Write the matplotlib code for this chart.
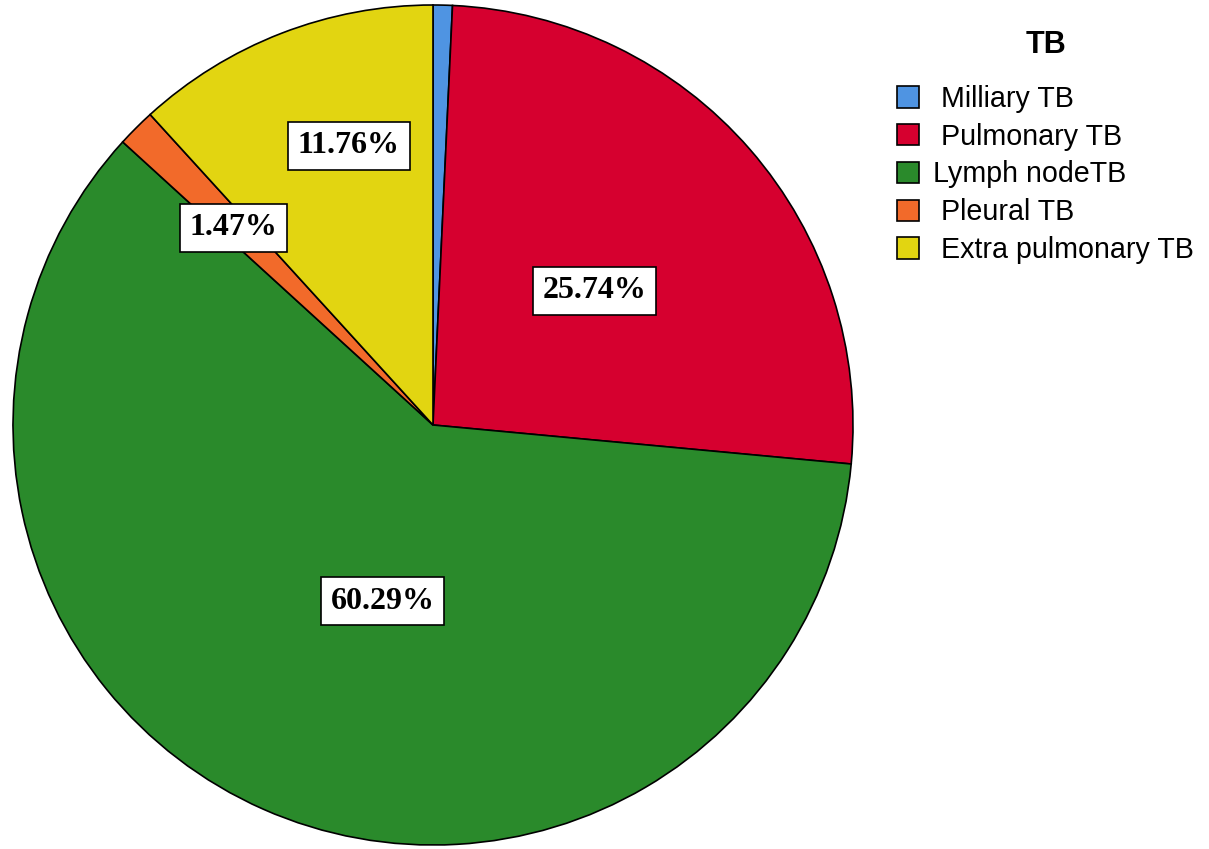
import matplotlib
matplotlib.use("Agg")
import matplotlib.pyplot as plt

# TB type distribution (%)
categories = ["Milliary TB", "Pulmonary TB", "Lymph nodeTB", "Pleural TB", "Extra pulmonary TB"]
legend_labels = [" Milliary TB", " Pulmonary TB", "Lymph nodeTB", " Pleural TB", " Extra pulmonary TB"]
percent = [0.74, 25.74, 60.29, 1.47, 11.76]
colors = ["#4f94e2", "#d6002f", "#2a8a2b", "#f26a2a", "#e2d511"]

# label anchors as (x, y) in units of pie radius from the centre; None = unlabelled
label_pos = [None, (0.385, 0.32), (-0.12, -0.42), (-0.475, 0.47), (-0.20, 0.665)]

W, H = 1209, 849
fig = plt.figure(figsize=(W / 100, H / 100), dpi=100)
ax = fig.add_axes([0, 0, 1, 1])

cx, cy, R = 433, H - 425, 420
wedges, _ = ax.pie(percent, colors=colors, startangle=90, counterclock=False,
                   center=(cx, cy), radius=R, frame=True,
                   wedgeprops=dict(edgecolor="black", linewidth=1.2))
ax.set_xlim(0, W)
ax.set_ylim(0, H)
ax.set_aspect("equal")
ax.axis("off")

for p, pos in zip(percent, label_pos):
    if pos is None:
        continue
    ax.text(cx + pos[0] * R, cy + pos[1] * R, f"{p:.2f}%",
            ha="center", va="center", fontsize=23, fontweight="bold",
            family="Liberation Serif",
            bbox=dict(boxstyle="square,pad=0.3", facecolor="white",
                      edgecolor="black", linewidth=1.2))

leg = ax.legend(wedges, legend_labels, title="TB", loc="upper left",
                bbox_to_anchor=(877 / W, 1 - 10 / H), frameon=False,
                prop=dict(family="Liberation Sans", size=20.6),
                title_fontproperties=dict(family="Liberation Sans", size=22, weight="bold"),
                handlelength=0.77, handleheight=0.77, handletextpad=0.5,
                labelspacing=0.34, borderpad=0.2)
leg._legend_box.sep = 18
for h in leg.legend_handles:
    h.set_linewidth(1.2)

fig.savefig("out.png", dpi=100)
